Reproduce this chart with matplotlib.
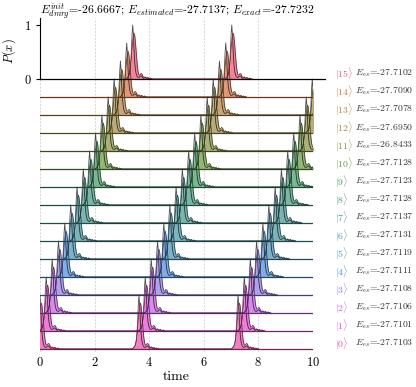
import numpy as np
import matplotlib.pyplot as plt
import seaborn as sns

plt.rcParams['font.family'] = 'cmr10'
plt.rcParams['mathtext.fontset'] = 'cm'
plt.rcParams['axes.formatter.use_mathtext'] = True

# states |0> .. |15>, energy of each eigenstate
states = list(range(16))
e_es = [-27.7103, -27.7101, -27.7106, -27.7108, -27.7111, -27.7119,
        -27.7131, -27.7137, -27.7128, -27.7123, -27.7128, -26.8433,
        -27.6950, -27.7078, -27.7090, -27.7102]

# peak centres (time) for each state
peaks = [
    [0.00, 3.63, 7.26],
    [0.23, 3.86, 7.49],
    [0.45, 4.08, 7.71],
    [0.68, 4.31, 7.94],
    [0.91, 4.54, 8.17],
    [1.13, 4.76, 8.39],
    [1.36, 4.99, 8.62],
    [1.59, 5.22, 8.85],
    [1.82, 5.45, 9.08],
    [2.04, 5.67, 9.30],
    [2.27, 5.90, 9.53],
    [2.50, 6.13, 9.76],
    [2.72, 6.35, 9.98],
    [2.95, 6.58, 10.21],
    [3.18, 6.81],
    [3.40, 7.03],
]

# shape of one peak around its centre (exact vs estimated distribution)
peak_dx = [-0.250, -0.225, -0.200, -0.175, -0.150, -0.125, -0.100, -0.075,
           -0.050, -0.025, 0.000, 0.025, 0.050, 0.075, 0.100, 0.125, 0.150,
           0.175, 0.200, 0.225, 0.250, 0.275, 0.300, 0.325, 0.350, 0.375,
           0.400, 0.425, 0.450, 0.475, 0.500, 0.525, 0.550, 0.575, 0.600,
           0.625, 0.650, 0.675, 0.700, 0.725, 0.750]
exact_shape = [0.00, 0.01, 0.02, 0.04, 0.06, 0.10, 0.17, 0.30,
               0.52, 0.82, 1.00, 0.82, 0.52, 0.30, 0.17, 0.10, 0.06,
               0.04, 0.03, 0.03, 0.04, 0.05, 0.06, 0.05, 0.04, 0.02,
               0.01, 0.02, 0.03, 0.02, 0.01, 0.01, 0.02, 0.01, 0.01,
               0.00, 0.01, 0.01, 0.00, 0.00, 0.00]
estimated_shape = [0.00, 0.01, 0.02, 0.03, 0.05, 0.08, 0.14, 0.24,
                   0.38, 0.55, 0.70, 0.81, 0.85, 0.80, 0.68, 0.52, 0.36,
                   0.22, 0.13, 0.08, 0.07, 0.08, 0.10, 0.10, 0.08, 0.05,
                   0.03, 0.03, 0.04, 0.03, 0.02, 0.02, 0.03, 0.02, 0.01,
                   0.01, 0.02, 0.01, 0.01, 0.00, 0.00]

title = (r'$E^{init}_{dmrg}$=-26.6667; $E_{estimated}$=-27.7137; '
         r'$E_{exact}$=-27.7232')

step = 1 / 3.
colors = sns.husl_palette(16, s=.8, l=.58)[::-1]

fig = plt.figure(figsize=(4.16, 3.87), dpi=100)
ax = fig.add_axes([0.096, 0.0904, 0.656, 0.8631])

for k in states:
    base = k * step
    c = colors[k]
    dark = tuple(v * 0.5 for v in c)
    x = np.concatenate([p + np.array(peak_dx) for p in peaks[k]])
    y_ex = np.tile(exact_shape, len(peaks[k]))
    y_es = np.tile(estimated_shape, len(peaks[k]))

    if k == 15:
        ax.axhline(base, xmax=1.045, color='k', lw=0.9, clip_on=False)
    else:
        ax.axhline(base, color=dark, lw=0.9)
    ax.fill_between(x, base, base + y_ex, color='white', alpha=0.75, lw=0)
    ax.plot(x, base + y_ex, color='k', lw=0.6, alpha=0.7)
    ax.fill_between(x, base, base + y_es, color=c, alpha=0.7, lw=0)
    ax.plot(x, base + y_es, color=dark, lw=0.6)

    ax.text(10.8, base + 0.1, r'$|%d\rangle$' % k, color=c, fontsize=7,
            va='center', ha='left', clip_on=False)
    ax.text(11.54, base + 0.1, r'$E_{es}$=%.4f' % e_es[k], color='#333333',
            fontsize=7, va='center', ha='left', clip_on=False)

ax.set_xlim(0, 10)
ax.set_ylim(-0.056, 6.13)
ax.set_xticks([0, 2, 4, 6, 8, 10])
ax.set_yticks([15 * step, 15 * step + 1])
ax.set_yticklabels(['0', '1'])
ax.tick_params(axis='x', length=0, pad=3, labelsize=9)
ax.tick_params(axis='y', length=3, labelsize=9)
ax.grid(axis='x', color='#c8c8c8', lw=0.5, ls=(0, (3, 2)))
ax.set_axisbelow(True)
for side in ['top', 'right', 'bottom']:
    ax.spines[side].set_visible(False)
ax.spines['left'].set_bounds(15 * step, 6.13)
ax.set_xlabel('time', fontsize=10, labelpad=1)
ax.set_ylabel(r'$P(x)$', fontsize=9)
ax.yaxis.set_label_coords(-0.08, 0.9)
fig.text(0.425, 0.970, title, ha='center', va='center', fontsize=8.5)

fig.savefig('out.png', dpi=100)
